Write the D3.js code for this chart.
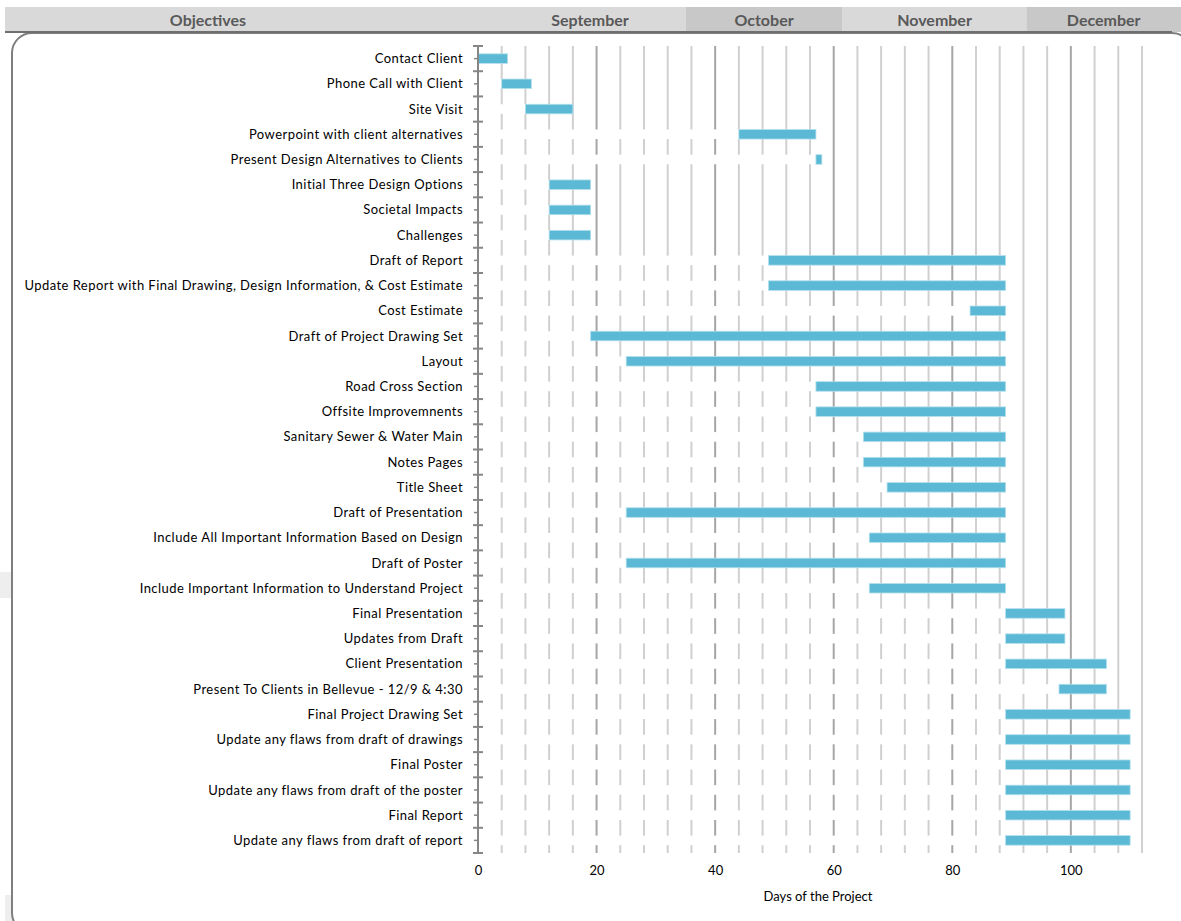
<!DOCTYPE html>
<html>
<head>
<meta charset="utf-8">
<script src="https://cdn.jsdelivr.net/npm/d3@7"></script>
<style>
  body { margin: 0; background: #fff; }
  svg { display: block; font-family: Lato, "Open Sans", sans-serif; }
</style>
</head>
<body>
<div id="chart"></div>
<script>
var width = 1181,
  height = 921;

// tasks, start day and end day of each bar
var tasks = [
  "Contact Client",
  "Phone Call with Client",
  "Site Visit",
  "Powerpoint with client alternatives",
  "Present Design Alternatives to Clients",
  "Initial Three Design Options",
  "Societal Impacts",
  "Challenges",
  "Draft of Report",
  "Update Report with Final Drawing, Design Information, & Cost Estimate",
  "Cost Estimate",
  "Draft of Project Drawing Set",
  "Layout",
  "Road Cross Section",
  "Offsite Improvemnents",
  "Sanitary Sewer & Water Main",
  "Notes Pages",
  "Title Sheet",
  "Draft of Presentation",
  "Include All Important Information Based on Design",
  "Draft of Poster",
  "Include Important Information to Understand Project",
  "Final Presentation",
  "Updates from Draft",
  "Client Presentation",
  "Present To Clients in Bellevue - 12/9 & 4:30",
  "Final Project Drawing Set",
  "Update any flaws from draft of drawings",
  "Final Poster",
  "Update any flaws from draft of the poster",
  "Final Report",
  "Update any flaws from draft of report"
];
var startDay = [0, 4, 8, 44, 57, 12, 12, 12, 49, 49, 83, 19, 25, 57, 57, 65, 65, 69, 25, 66, 25, 66,
  89, 89, 89, 98, 89, 89, 89, 89, 89, 89];
var endDay = [5, 9, 16, 57, 58, 19, 19, 19, 89, 89, 89, 89, 89, 89, 89, 89, 89, 89, 89, 89, 89, 89,
  99, 99, 106, 106, 110, 110, 110, 110, 110, 110];

var xTicks = [0, 20, 40, 60, 80, 100];
var gridDays = d3.range(4, 113, 4);

// header banner (in project days)
var months = ["September", "October", "November", "December"];
var monthFrom = [-11, 35, 61.5, 92.5];
var monthTo = [35, 61.5, 92.5, 118.6];

var svg = d3.select("#chart")
  .append("svg")
  .attr("width", width)
  .attr("height", height);

var x = d3.scaleLinear()
  .domain([0, 112])
  .range([478, 1142]);

var y = d3.scaleBand()
  .domain(tasks)
  .range([46, 853])
  .paddingInner(0.62)
  .paddingOuter(0.31);

var step = y.step(),
  bw = y.bandwidth();

// header
var head = svg.append("g");
head.append("rect")
  .attr("x", 5).attr("y", 7)
  .attr("width", x(monthFrom[0]) - 4).attr("height", 25)
  .attr("fill", "#d9d9d9");
head.append("text")
  .attr("x", 208).attr("y", 26)
  .attr("text-anchor", "middle")
  .attr("font-size", 16).attr("font-weight", "bold")
  .attr("fill", "#595959")
  .text("Objectives");

months.forEach(function (m, i) {
  var a = x(monthFrom[i]),
    b = Math.min(x(monthTo[i]), width);
  head.append("rect")
    .attr("x", a).attr("y", 7)
    .attr("width", b - a).attr("height", 25)
    .attr("fill", i % 2 ? "#c8c8c8" : "#d9d9d9");
  head.append("text")
    .attr("x", i == 0 ? 590 : (a + b) / 2).attr("y", 26)
    .attr("text-anchor", "middle")
    .attr("font-size", 16).attr("font-weight", "bold")
    .attr("fill", "#595959")
    .text(m);
});

// little grey patches at the left edge
svg.append("rect")
  .attr("x", 0).attr("y", 572).attr("width", 11).attr("height", 26)
  .attr("fill", "#eeeeee");
svg.append("rect")
  .attr("x", 5).attr("y", 895).attr("width", 7).attr("height", 26)
  .attr("fill", "#eeeeee");

// frame
svg.append("rect")
  .attr("x", 12).attr("y", 33)
  .attr("width", 1180).attr("height", 900)
  .attr("rx", 20).attr("ry", 20)
  .attr("fill", "#fff")
  .attr("stroke", "#7f7f7f")
  .attr("stroke-width", 2);
head.raise();
head.append("line")
  .attr("x1", 5).attr("x2", 1172)
  .attr("y1", 32).attr("y2", 32)
  .attr("stroke", "#6f6f6f").attr("stroke-width", 2);

// gridlines
svg.append("g")
  .selectAll("line")
  .data(gridDays)
  .enter().append("line")
  .attr("x1", function (d) { return x(d); })
  .attr("x2", function (d) { return x(d); })
  .attr("y1", 46).attr("y2", 853)
  .attr("stroke", function (d) { return d % 20 == 0 ? "#a6a6a6" : "#d0d0d0"; })
  .attr("stroke-width", 2);

// white offset bars (hide gridlines before each task)
svg.append("g")
  .selectAll("rect")
  .data(tasks)
  .enter().append("rect")
  .attr("x", x(0))
  .attr("y", function (d) { return y(d); })
  .attr("width", function (d, i) { return x(startDay[i]) - x(0); })
  .attr("height", bw)
  .attr("fill", "#fff");

// task bars
svg.append("g")
  .selectAll("rect")
  .data(tasks)
  .enter().append("rect")
  .attr("x", function (d, i) { return x(startDay[i]); })
  .attr("y", function (d) { return y(d); })
  .attr("width", function (d, i) { return x(endDay[i]) - x(startDay[i]); })
  .attr("height", bw)
  .attr("fill", "#5bb9d5")
  .attr("stroke", "#b5e0ed")
  .attr("stroke-width", 0.8);

// y axis
var yAxis = svg.append("g");
yAxis.append("line")
  .attr("x1", x(0)).attr("x2", x(0))
  .attr("y1", 46).attr("y2", 853)
  .attr("stroke", "#868686").attr("stroke-width", 2);

var bounds = tasks.map(function (d) { return y(d) + bw / 2 - step / 2; });
bounds.push(y(tasks[tasks.length - 1]) + bw / 2 + step / 2);
yAxis.selectAll(".tb")
  .data(bounds)
  .enter().append("line")
  .attr("x1", x(0) - 5).attr("x2", x(0) + 5)
  .attr("y1", function (d) { return d; })
  .attr("y2", function (d) { return d; })
  .attr("stroke", "#868686").attr("stroke-width", 2);
yAxis.selectAll(".tm")
  .data(tasks)
  .enter().append("line")
  .attr("x1", x(0) - 4).attr("x2", x(0))
  .attr("y1", function (d) { return y(d) + bw / 2; })
  .attr("y2", function (d) { return y(d) + bw / 2; })
  .attr("stroke", "#868686").attr("stroke-width", 1.5);

yAxis.selectAll("text")
  .data(tasks)
  .enter().append("text")
  .attr("x", 463)
  .attr("y", function (d) { return y(d) + bw / 2; })
  .attr("dy", "0.35em")
  .attr("text-anchor", "end")
  .attr("font-size", 13)
  .attr("letter-spacing", 0.45)
  .attr("fill", "#000")
  .text(function (d) { return d; });

// x axis labels
var xAxis = svg.append("g")
  .attr("transform", "translate(0,866)")
  .call(d3.axisBottom(x).tickValues(xTicks).tickSize(0).tickPadding(0));
xAxis.select(".domain").remove();
xAxis.selectAll("text")
  .attr("font-family", "Lato, sans-serif")
  .attr("font-size", 13)
  .attr("fill", "#000");

svg.append("text")
  .attr("x", (x(0) + x(112)) / 2 + 8)
  .attr("y", 901)
  .attr("text-anchor", "middle")
  .attr("font-size", 13)
  .attr("fill", "#000")
  .text("Days of the Project");
</script>
</body>
</html>
